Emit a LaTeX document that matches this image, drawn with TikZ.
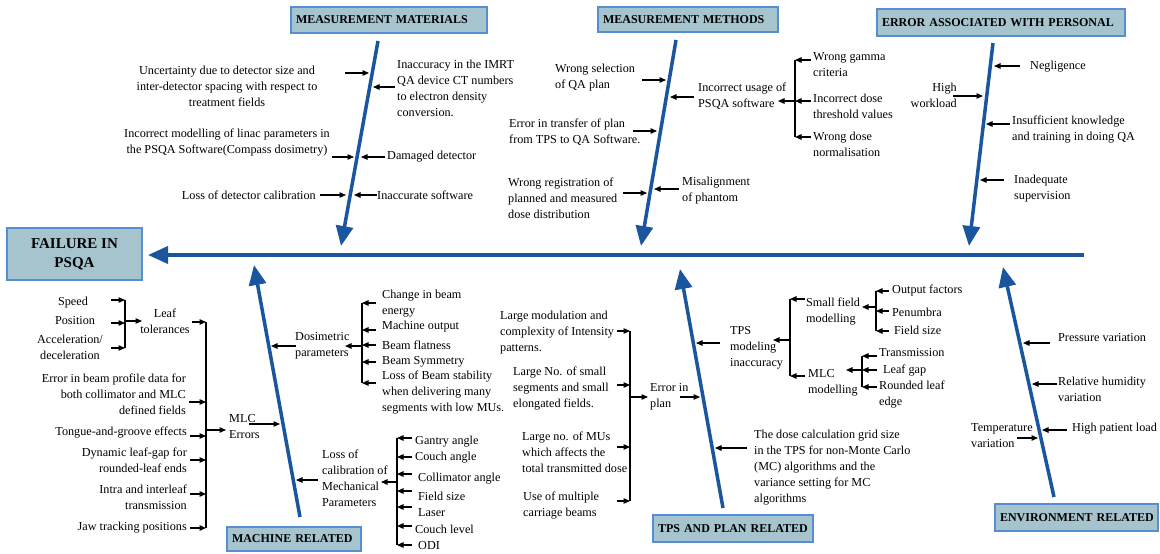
\documentclass[tikz,border=0pt]{standalone}
\usepackage{fontspec}
\setmainfont{Liberation Serif}
\usetikzlibrary{arrows.meta}
\definecolor{bonecol}{RGB}{26,86,158}
\definecolor{boxfill}{RGB}{165,196,206}
\definecolor{boxline}{RGB}{86,142,210}
\hbadness=10000 \hfuzz=100pt
\begin{document}
\begin{tikzpicture}[x=1pt,y=-1pt,
  t/.style={inner sep=0pt, font=\fontsize{12.2}{16}\selectfont},
  tl/.style={t, anchor=west, align=left},
  tr/.style={t, anchor=east, align=right},
  tc/.style={t, anchor=center, align=center},
  hd/.style={draw=boxline, line width=1.8pt, fill=boxfill, inner xsep=5pt, inner ysep=0pt,
     font=\bfseries\fontsize{12}{14}\selectfont, align=left, anchor=center},
  bone/.style={draw=bonecol, line width=3.5pt, -{Triangle[length=20pt,width=17pt]}},
  sarr/.style={draw=black, line width=1.3pt, -{Triangle[length=6.5pt,width=5.5pt]}},
  bl/.style={draw=black, line width=1.3pt}]
\useasboundingbox (0,0) rectangle (1160,554);

% ---------- heading boxes ----------
\node[hd, text width=186pt, minimum height=26pt] (hmat) at (389,20) {\mbox{MEASUREMENT MATERIALS}};
\node[hd, text width=170pt, minimum height=25pt] (hmet) at (688,19.5) {\mbox{MEASUREMENT METHODS}};
\node[hd, text width=238pt, minimum height=27pt] (hper) at (1001,22.5) {\mbox{ERROR ASSOCIATED WITH PERSONAL}};
\node[draw=boxline, line width=1.8pt, fill=boxfill, inner sep=0pt, minimum width=135pt, minimum height=52pt,
      align=center, font=\bfseries\fontsize{15}{19}\selectfont] (fail) at (74.5,254) {FAILURE IN\\PSQA};
\node[hd, text width=124pt, minimum height=24pt] (hmac) at (294,539) {\mbox{MACHINE RELATED}};
\node[hd, text width=150pt, minimum height=27pt] (htps) at (733,528.5) {\mbox{TPS AND PLAN RELATED}};
\node[hd, text width=153pt, minimum height=27pt] (henv) at (1076.5,517.5) {\mbox{ENVIRONMENT RELATED}};

% ---------- spine and bones ----------
\coordinate (spR) at (1084,255);
\coordinate (spL) at (148,255);
\draw[bone] (spR) -- (spL);
\coordinate (matT) at (378,41);  \coordinate (matB) at (341,246);
\coordinate (metT) at (676,40);  \coordinate (metB) at (641,246);
\coordinate (perT) at (993,43);  \coordinate (perB) at (969,246);
\coordinate (macB) at (300,517); \coordinate (macT) at (254,265);
\coordinate (tpsB) at (723,508); \coordinate (tpsT) at (680,269);
\coordinate (envB) at (1054,497);\coordinate (envT) at (1003,267);
\draw[bone] (matT) -- (matB);
\draw[bone] (metT) -- (metB);
\draw[bone] (perT) -- (perB);
\draw[bone] (macB) -- (macT);
\draw[bone] (tpsB) -- (tpsT);
\draw[bone] (envB) -- (envT);

% ---------- measurement materials ----------
\node[tc] (m1) at (227,86) {Uncertainty due to detector size and\\inter-detector spacing with respect to\\treatment fields};
\draw[sarr] (345,73) -- (369,73);
\node[tl] (m2) at (397,88) {Inaccuracy in the IMRT\\QA device CT numbers\\to electron density\\conversion.};
\draw[sarr] (395,87) -- (373,87);
\node[tc] (m3) at (227,143) {Incorrect modelling of linac parameters in\\the PSQA Software(Compass dosimetry)};
\draw[sarr] (332,157) -- (354,157);
\node[tl] (m4) at (387,157) {Damaged detector};
\draw[sarr] (385,157) -- (361,157);
\node[tr] (m5) at (316,195) {Loss of detector calibration};
\draw[sarr] (320,195) -- (346,195);
\node[tl] (m6) at (377,195) {Inaccurate software};
\draw[sarr] (377,195) -- (354,195);

% ---------- measurement methods ----------
\node[tl] (e1) at (555,78) {Wrong selection\\of QA plan};
\draw[sarr] (642,80) -- (666,80);
\node[tl] (e2) at (698,96.5) {Incorrect usage of\\PSQA software};
\draw[sarr] (694,97) -- (670,97);
\draw[bl] (795,60) -- (795,137);
\draw[sarr] (795,101) -- (778,101);
\draw[sarr] (811,60) -- (795,60);
\draw[sarr] (811,101) -- (795,101);
\draw[sarr] (811,137) -- (795,137);
\node[tl] (e3) at (813,65) {Wrong gamma\\criteria};
\node[tl] (e4) at (813,106) {Incorrect dose\\threshold values};
\node[tl] (e5) at (813,144.5) {Wrong dose\\normalisation};
\node[tl] (e6) at (509,132) {Error in transfer of plan\\from TPS to QA Software.};
\draw[sarr] (633,131) -- (657,131);
\node[tl] (e7) at (508,198) {Wrong registration of\\planned and measured\\dose distribution};
\draw[sarr] (623,193) -- (647,193);
\node[tl] (e8) at (682,190.5) {Misalignment\\of phantom};
\draw[sarr] (679,189) -- (654,189);

% ---------- personal ----------
\node[tl] (p1) at (1030,67) {Negligence};
\draw[sarr] (1020,66) -- (994,66);
\node[tr] (p2) at (957,95.5) {High\\workload};
\draw[sarr] (953,96) -- (983,96);
\node[tl] (p3) at (1012,130) {Insufficient knowledge\\and training in doing QA};
\draw[sarr] (1010,124) -- (986,124);
\node[tl] (p4) at (1014,189) {Inadequate\\supervision};
\draw[sarr] (1004,180) -- (980,180);

% ---------- machine related ----------
\node[tc] (a1) at (73,303) {Speed};
\node[tc] (a2) at (75,321) {Position};
\node[tc] (a3) at (70,347) {Acceleration/\\deceleration};
\draw[bl] (125,300) -- (125,348);
\draw[sarr] (111,300) -- (125,300);
\draw[sarr] (111,323) -- (125,323);
\draw[sarr] (111,348) -- (125,348);
\draw[sarr] (125,321) -- (142,321);
\node[tc] (a4) at (165,321.5) {Leaf\\tolerances};
\draw[bl] (206,322) -- (206,528);
\draw[sarr] (192,322) -- (206,322);
\node[tr] (a5) at (186,394) {Error in beam profile data for\\both collimator and MLC\\defined fields};
\draw[sarr] (189,402) -- (206,402);
\node[tr] (a6) at (187,433) {Tongue-and-groove effects};
\draw[sarr] (190,436) -- (206,436);
\node[tr] (a7) at (187,460) {Dynamic leaf-gap for\\rounded-leaf ends};
\draw[sarr] (190,460) -- (206,460);
\node[tr] (a8) at (187,497) {Intra and interleaf\\transmission};
\draw[sarr] (190,494) -- (206,494);
\node[tr] (a9) at (187,528) {Jaw tracking positions};
\draw[sarr] (190,528) -- (206,528);
\draw[sarr] (206,430) -- (226,430);
\node[tl] (a10) at (229,427) {MLC\\Errors};
\draw[sarr] (249,424) -- (280,424);

\node[tl] (d0) at (295,345.5) {Dosimetric\\parameters};
\draw[sarr] (296,346) -- (271,346);
\draw[bl] (362,303) -- (362,383);
\draw[sarr] (362,346) -- (345,346);
\draw[sarr] (376,303) -- (362,303);
\draw[sarr] (376,330) -- (362,330);
\draw[sarr] (376,345) -- (362,345);
\draw[sarr] (376,362) -- (362,362);
\draw[sarr] (376,383) -- (362,383);
\node[tl] (d1) at (382,303.5) {Change in beam\\energy};
\node[tl] (d2) at (382,327) {Machine output};
\node[tl] (d3) at (382,345) {Beam flatness};
\node[tl] (d4) at (382,362) {Beam Symmetry};
\node[tl] (d5) at (382,393) {Loss of Beam stability\\when delivering many\\segments with low MUs.};

\node[tl] (c0) at (322,478) {Loss of\\calibration of\\Mechanical\\Parameters};
\draw[sarr] (318,480) -- (296,480);
\draw[bl] (397,438) -- (397,545);
\draw[sarr] (397,482) -- (381,482);
\foreach \yy in {438,457,474,491,507,526,545} {\draw[sarr] (412,\yy) -- (397,\yy);}
\node[tl] (c1) at (415,442) {Gantry angle};
\node[tl] (c2) at (415,458) {Couch angle};
\node[tl] (c3) at (418,479) {Collimator angle};
\node[tl] (c4) at (418,496) {Field size};
\node[tl] (c5) at (418,513) {Laser};
\node[tl] (c6) at (415,529) {Couch level};
\node[tl] (c7) at (418,546) {ODI};

% ---------- TPS and plan ----------
\node[tl] (s1) at (500,333) {Large modulation and\\complexity of Intensity\\patterns.};
\draw[bl] (630,331) -- (630,501);
\draw[sarr] (617,331) -- (630,331);
\node[tl] (s2) at (513,388.5) {Large No. of small\\segments and small\\elongated fields.};
\draw[sarr] (617,385) -- (630,385);
\node[tl] (s3) at (522,452) {Large no. of MUs\\which affects the\\total transmitted dose};
\draw[sarr] (617,447) -- (630,447);
\node[tl] (s4) at (523,506) {Use of multiple\\carriage beams};
\draw[sarr] (617,501) -- (630,501);
\draw[sarr] (630,397) -- (648,397);
\node[tl] (s5) at (650,396.5) {Error in\\plan};
\draw[sarr] (680,397) -- (700,397);

\node[tl] (s6) at (730,347.5) {TPS\\modeling\\inaccuracy};
\draw[sarr] (720,343) -- (696,343);
\draw[bl] (790,299) -- (790,376);
\draw[sarr] (790,340) -- (773,340);
\draw[sarr] (805,299) -- (790,299);
\draw[sarr] (805,376) -- (790,376);
\node[tl] (s7) at (806,311.5) {Small field\\modelling};
\node[tl] (s8) at (808,383) {MLC\\modelling};
\draw[bl] (876,291) -- (876,331);
\draw[sarr] (876,307) -- (862,307);
\foreach \yy in {291,311,331} {\draw[sarr] (889,\yy) -- (876,\yy);}
\node[tl] (s9) at (892,291) {Output factors};
\node[tl] (s10) at (892,312) {Penumbra};
\node[tl] (s11) at (894,330) {Field size};
\draw[bl] (862,356) -- (862,387);
\draw[sarr] (862,370) -- (846,370);
\foreach \yy in {356,370,387} {\draw[sarr] (877,\yy) -- (862,\yy);}
\node[tl] (s12) at (879,353) {Transmission};
\node[tl] (s13) at (883,371) {Leaf gap};
\node[tl] (s14) at (879,395) {Rounded leaf\\edge};
\node[tl] (s15) at (754,467.5) {The dose calculation grid size\\in the TPS for non-Monte Carlo\\(MC) algorithms and the\\variance setting for MC\\algorithms};
\draw[sarr] (747,448) -- (715,448);

% ---------- environment ----------
\node[tl] (v1) at (1058,338) {Pressure variation};
\draw[sarr] (1050,343) -- (1023,343);
\node[tl] (v2) at (1058,389.5) {Relative humidity\\variation};
\draw[sarr] (1057,384) -- (1032,384);
\node[tl] (v3) at (971,435.5) {Temperature\\variation};
\draw[sarr] (1017,438) -- (1038,438);
\node[tl] (v4) at (1072,429) {High patient load};
\draw[sarr] (1067,430) -- (1042,430);
\end{tikzpicture}
\end{document}
